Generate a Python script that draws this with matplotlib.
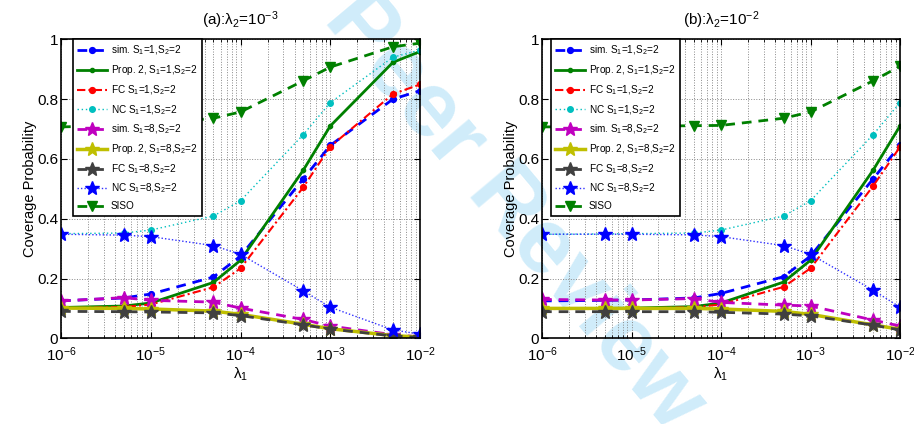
import matplotlib
matplotlib.use("Agg")
import matplotlib.pyplot as plt
from matplotlib.ticker import LogLocator, NullFormatter

plt.rcParams['font.family'] = ['Liberation Sans', 'DejaVu Sans']
plt.rcParams['mathtext.fontset'] = 'custom'
plt.rcParams['mathtext.rm'] = 'Liberation Sans'
plt.rcParams['mathtext.it'] = 'Liberation Sans:italic'
plt.rcParams['mathtext.bf'] = 'Liberation Sans:bold'

# ---------------- data ----------------
lam1 = [1e-6, 5e-6, 1e-5, 5e-5, 1e-4, 5e-4, 1e-3, 5e-3, 1e-2]

titles = ['(a):λ$_2$=10$^{-3}$', '(b):λ$_2$=10$^{-2}$']

labels = ['sim. S$_1$=1,S$_2$=2', 'Prop. 2, S$_1$=1,S$_2$=2', 'FC S$_1$=1,S$_2$=2',
          'NC S$_1$=1,S$_2$=2', 'sim. S$_1$=8,S$_2$=2', 'Prop. 2, S$_1$=8,S$_2$=2',
          'FC S$_1$=8,S$_2$=2', 'NC S$_1$=8,S$_2$=2', 'SISO']

a_sim1 = [0.125, 0.135, 0.148, 0.205, 0.275, 0.533, 0.645, 0.800, 0.828]
a_prop1 = [0.103, 0.108, 0.118, 0.187, 0.261, 0.562, 0.710, 0.923, 0.959]
a_fc1 = [0.100, 0.105, 0.113, 0.171, 0.234, 0.505, 0.641, 0.817, 0.849]
a_nc1 = [0.350, 0.352, 0.362, 0.409, 0.460, 0.681, 0.788, 0.940, 0.964]
a_sim8 = [0.125, 0.136, 0.127, 0.121, 0.101, 0.063, 0.041, 0.012, 0.005]
a_prop8 = [0.101, 0.100, 0.098, 0.091, 0.080, 0.047, 0.032, 0.009, 0.004]
a_fc8 = [0.090, 0.089, 0.088, 0.085, 0.076, 0.045, 0.031, 0.008, 0.003]
a_nc8 = [0.348, 0.345, 0.340, 0.310, 0.281, 0.159, 0.104, 0.028, 0.014]
a_siso = [0.707, 0.712, 0.716, 0.736, 0.757, 0.861, 0.907, 0.975, 0.987]

b_sim1 = [0.125, 0.127, 0.128, 0.135, 0.150, 0.206, 0.275, 0.533, 0.645]
b_prop1 = [0.100, 0.100, 0.101, 0.106, 0.118, 0.188, 0.261, 0.562, 0.710]
b_fc1 = [0.098, 0.098, 0.099, 0.104, 0.113, 0.172, 0.234, 0.509, 0.640]
b_nc1 = [0.348, 0.349, 0.350, 0.352, 0.362, 0.409, 0.460, 0.681, 0.788]
b_sim8 = [0.130, 0.128, 0.128, 0.133, 0.120, 0.111, 0.108, 0.061, 0.041]
b_prop8 = [0.100, 0.100, 0.100, 0.100, 0.098, 0.090, 0.080, 0.045, 0.030]
b_fc8 = [0.089, 0.089, 0.089, 0.089, 0.087, 0.081, 0.075, 0.044, 0.028]
b_nc8 = [0.348, 0.348, 0.348, 0.346, 0.340, 0.310, 0.281, 0.161, 0.104]
b_siso = [0.707, 0.708, 0.709, 0.711, 0.712, 0.736, 0.757, 0.861, 0.910]

panel_a = [a_sim1, a_prop1, a_fc1, a_nc1, a_sim8, a_prop8, a_fc8, a_nc8, a_siso]
panel_b = [b_sim1, b_prop1, b_fc1, b_nc1, b_sim8, b_prop8, b_fc8, b_nc8, b_siso]

yticks = [0, 0.2, 0.4, 0.6, 0.8, 1]
yticklabels = ['0', '0.2', '0.4', '0.6', '0.8', '1']

# ---------------- styles ----------------
GREEN = '#008000'
styles = [
    dict(color='#0000ff', ls=(0, (3.5, 2.5)), lw=2.0, marker='o', ms=4.2, mfc='#0000ff', mec='#0000ff'),
    dict(color=GREEN, ls='-', lw=2.0, marker='o', ms=3.0, mfc=GREEN, mec=GREEN),
    dict(color='#ff0000', ls=(0, (4, 1.5, 1, 1.5)), lw=1.5, marker='o', ms=4.2, mfc='#ff0000', mec='#ff0000'),
    dict(color='#00bfbf', ls=(0, (1, 2)), lw=1.0, marker='o', ms=4.0, mfc='#00bfbf', mec='#00bfbf'),
    dict(color='#bf00bf', ls=(0, (3.5, 2.5)), lw=2.0, marker='*', ms=10, mfc='#bf00bf', mec='#bf00bf'),
    dict(color='#bfbf00', ls='-', lw=2.5, marker='*', ms=10, mfc='#bfbf00', mec='#bfbf00'),
    dict(color='#404040', ls=(0, (3.5, 2.5)), lw=2.0, marker='*', ms=10, mfc='#404040', mec='#404040'),
    dict(color='#3030ff', ls=(0, (1, 1.5)), lw=1.0, marker='*', ms=10, mfc='#0000ff', mec='#0000ff'),
    dict(color=GREEN, ls=(0, (3.5, 2.5)), lw=2.0, marker='v', ms=7, mfc=GREEN, mec=GREEN),
]

fig = plt.figure(figsize=(9.14, 4.24), dpi=100)

# watermark (behind the plots)
fig.text(514 / 914, 1 - 212 / 424, 'Peer Review', rotation=-50, fontsize=66,
         fontweight='bold', color='#8fd3f4', alpha=0.42, ha='center', va='center',
         rotation_mode='anchor', zorder=-5, family='Liberation Sans')

axes_pos = [[61 / 914, 1 - 338.3 / 424, 359 / 914, 299 / 424],
            [542 / 914, 1 - 338.3 / 424, 358 / 914, 299 / 424]]
leg_x0 = [0.033, 0.025]

for ax_i, data in enumerate([panel_a, panel_b]):
    ax = fig.add_axes(axes_pos[ax_i])
    ax.set_facecolor('none')
    for y, lab, st in zip(data, labels, styles):
        ax.plot(lam1, y, label=lab, **st)
    ax.set_xscale('log')
    ax.set_xlim(1e-6, 1e-2)
    ax.set_ylim(0, 1)
    ax.set_yticks(yticks)
    ax.set_yticklabels(yticklabels)
    ax.xaxis.set_major_locator(LogLocator(base=10, numticks=10))
    ax.xaxis.set_minor_locator(LogLocator(base=10, subs=range(2, 10), numticks=50))
    ax.xaxis.set_minor_formatter(NullFormatter())
    ax.grid(True, which='major', axis='both', ls=':', color='#888888', lw=0.7)
    ax.grid(True, which='minor', axis='x', ls=':', color='#888888', lw=0.7)
    ax.tick_params(which='both', direction='in', top=True, right=True, labelsize=11,
                   color='black')
    ax.tick_params(which='major', length=4)
    ax.tick_params(which='minor', length=2)
    ax.tick_params(axis='y', pad=2)
    ax.tick_params(axis='x', pad=5)
    for sp in ax.spines.values():
        sp.set_linewidth(1.2)
    ax.set_xlabel('λ$_1$', fontsize=11, labelpad=1)
    ax.set_ylabel('Coverage Probability', fontsize=10.5, labelpad=0)
    ax.set_title(titles[ax_i], fontsize=11, pad=10)
    leg = ax.legend(loc='upper left', bbox_to_anchor=(leg_x0[ax_i], 1.0), borderaxespad=0,
                    fontsize=7.2, frameon=True, fancybox=False, edgecolor='black',
                    framealpha=1, handlelength=3.0, handletextpad=0.35, labelspacing=0.6,
                    borderpad=0.45)
    leg.get_frame().set_linewidth(1.2)

fig.savefig('out.png', dpi=100)
